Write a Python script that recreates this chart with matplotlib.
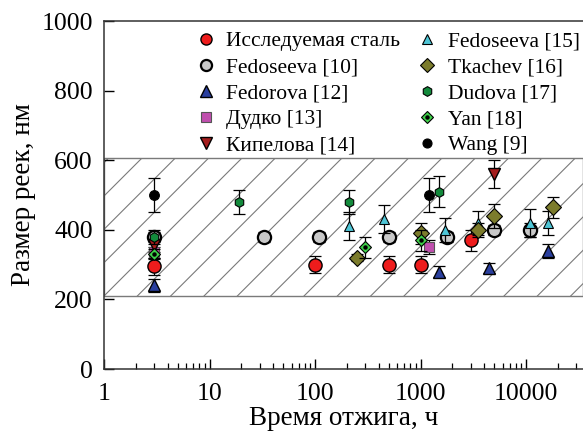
import matplotlib
matplotlib.use("Agg")
import matplotlib.pyplot as plt
from matplotlib.lines import Line2D
from matplotlib.legend_handler import HandlerTuple
import numpy as np

plt.rcParams['font.family'] = ['Liberation Serif', 'DejaVu Serif']
plt.rcParams['hatch.linewidth'] = 0.8
plt.rcParams['hatch.color'] = '#7a7a7a'

# ---- data ----
steel_x = [3, 100, 500, 1000, 3000]
steel_y = [295, 300, 300, 300, 370]
steel_e = [25, 25, 25, 25, 30]

fed10_x = [3, 33, 110, 500, 1800, 5000, 11000]
fed10_y = [380, 380, 380, 380, 380, 400, 400]
fed10_e = [15, 15, 15, 15, 15, 15, 20]

fedorova_x = [3, 1500, 4500, 16000]
fedorova_y = [240, 280, 290, 340]
fedorova_e = [20, 15, 15, 20]

dudko_x = [3, 1200]
dudko_y = [335, 350]
dudko_e = [15, 20]

kip_x = [3, 5000]
kip_y = [355, 560]
kip_e = [20, 40]

fed15_x = [210, 450, 1700, 3500, 11000, 16000]
fed15_y = [410, 430, 400, 420, 420, 420]
fed15_e = [40, 40, 35, 35, 40, 35]

tk_x = [250, 1000, 3500, 5000, 18000]
tk_y = [320, 390, 400, 440, 465]
tk_e = [10, 30, 20, 35, 30]

dud_x = [3, 19, 210, 1500]
dud_y = [380, 480, 480, 510]
dud_e = [20, 35, 35, 45]

yan_x = [3, 300, 1000]
yan_y = [330, 350, 370]
yan_e = [15, 30, 30]

wang_x = [3, 1200]
wang_y = [500, 500]
wang_e = [50, 50]

band_lo, band_hi = 210, 605

fig = plt.figure(figsize=(5.83, 4.34), dpi=100)
ax = fig.add_axes([104/583, 65/434, 1 - 104/583, (369-21)/434])

ax.axhspan(band_lo, band_hi, facecolor='white', edgecolor='#7a7a7a',
           hatch='/', lw=1.0, zorder=0)

def series(x, y, e, marker, face, ms, mew=1.0, edge='black', z=3):
    ax.errorbar(x, y, yerr=e, fmt='none', ecolor='black', elinewidth=0.9,
                capsize=4, capthick=0.9, zorder=z)
    ax.plot(x, y, linestyle='none', marker=marker, markerfacecolor=face,
            markeredgecolor=edge, markersize=ms, markeredgewidth=mew, zorder=z + 0.5)

series(fed10_x, fed10_y, fed10_e, 'o', '#c8c8c8', 9.5, mew=1.6, z=3)
series(steel_x, steel_y, steel_e, 'o', '#ee1c1c', 9.5, z=4)
series(fedorova_x, fedorova_y, fedorova_e, '^', '#2a3f9e', 9, z=4)
series(dudko_x, dudko_y, dudko_e, 's', '#c04fae', 7.5, mew=0.8, edge='#555555', z=5)
series(kip_x, kip_y, kip_e, 'v', '#a41d1d', 8.5, z=5)
series(fed15_x, fed15_y, fed15_e, '^', '#4ec5d6', 7.5, mew=0.8, z=5)
series(tk_x, tk_y, tk_e, 'D', '#7c7c2c', 8, mew=0.8, z=5)
series(dud_x, dud_y, dud_e, 'h', '#138a3c', 7, mew=0.8, z=6)
series(yan_x, yan_y, yan_e, 'D', '#3fd24a', 6.5, mew=0.8, z=6)
ax.plot(yan_x, yan_y, linestyle='none', marker='o', markersize=2.2,
        markerfacecolor='black', markeredgecolor='black', zorder=7)
series(wang_x, wang_y, wang_e, 'o', 'black', 7, mew=0.8, z=7)

ax.set_xscale('log')
ax.set_xlim(1, 10 ** ((583 - 104) / 105.5))
ax.set_ylim(0, 1000)
ax.set_yticks([0, 200, 400, 600, 800, 1000])
ax.set_xticks([1, 10, 100, 1000, 10000])
ax.set_xticklabels(['1', '10', '100', '1000', '10000'])
ax.tick_params(axis='both', which='major', direction='in', length=7, width=1,
               labelsize=18.5)
ax.tick_params(axis='x', which='major', pad=10)
ax.tick_params(axis='y', which='major', pad=8)
ax.tick_params(axis='x', which='minor', direction='in', length=4, width=0.9)
ax.tick_params(axis='y', which='minor', left=False)
ax.spines['right'].set_visible(False)
for s in ['left', 'bottom', 'top']:
    ax.spines[s].set_linewidth(1.1)
    ax.spines[s].set_color('#333333')

ax.set_xlabel('Время отжига, ч', fontsize=19.5, labelpad=1)
ax.set_ylabel('Размер реек, нм', fontsize=19.5, labelpad=4)

def h(marker, face, ms, mew=1.0, edge='black'):
    return Line2D([], [], linestyle='none', marker=marker, markerfacecolor=face,
                  markeredgecolor=edge, markersize=ms, markeredgewidth=mew)

handles = [
    h('o', '#ee1c1c', 8),
    h('o', '#c8c8c8', 8, mew=1.6),
    h('^', '#2a3f9e', 8),
    h('s', '#c04fae', 7, mew=0.8, edge='#555555'),
    h('v', '#a41d1d', 8),
    h('^', '#4ec5d6', 6.5, mew=0.8),
    h('D', '#7c7c2c', 7.5, mew=0.8),
    h('h', '#138a3c', 7, mew=0.8),
    (h('D', '#3fd24a', 6.5, mew=0.8), h('o', 'black', 2.2)),
    h('o', 'black', 6.5, mew=0.8),
]
labels = ['Исследуемая сталь', 'Fedoseeva [10]', 'Fedorova [12]', 'Дудко [13]',
          'Кипелова [14]', 'Fedoseeva [15]', 'Tkachev [16]', 'Dudova [17]',
          'Yan [18]', 'Wang [9]']
fig.legend(handles, labels, ncol=2, loc='upper left',
           bbox_to_anchor=(196/583, 1 - 31/434), frameon=False, fontsize=15.5,
           handlelength=0.9, handletextpad=0.5, labelspacing=0.28,
           columnspacing=0.8, borderpad=0, borderaxespad=0,
           handler_map={tuple: HandlerTuple(ndivide=1, pad=0)})

fig.savefig('out.png', dpi=100)
